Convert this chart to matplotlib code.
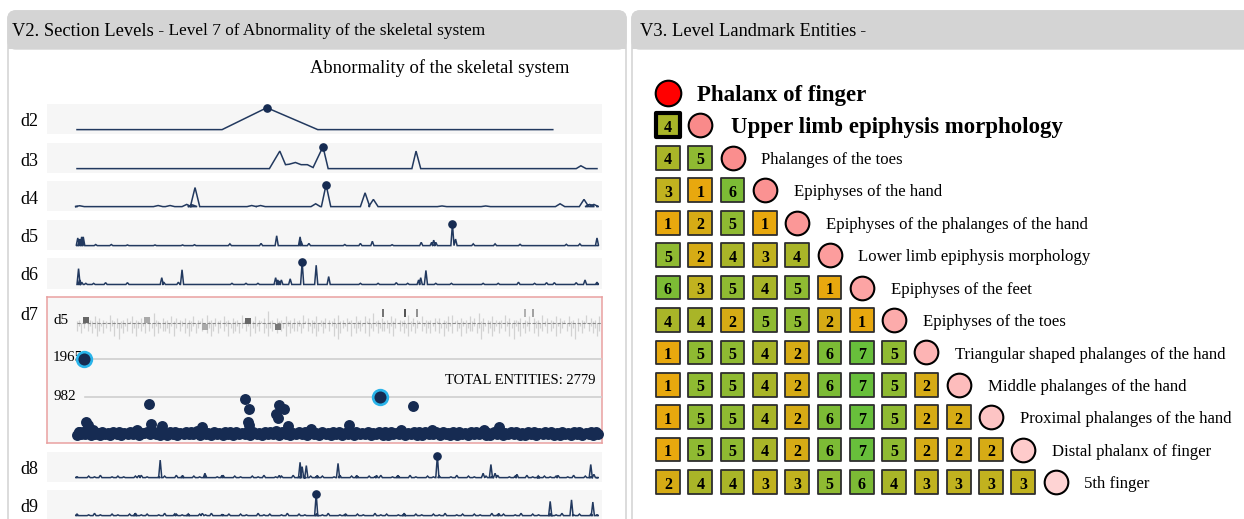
import matplotlib
matplotlib.use('Agg')
import matplotlib.pyplot as plt
from matplotlib.patches import FancyBboxPatch, Rectangle
import matplotlib.transforms as mtransforms
import numpy as np

W, H = 1244, 519
plt.rcParams['font.family'] = ['Liberation Serif', 'DejaVu Serif']

NAVY = '#22395f'
DOT = '#162b52'

# ---------------- data: V2 section levels ----------------
level_names = ['d2', 'd3', 'd4', 'd5', 'd6', 'd7', 'd8', 'd9']

d2_x = [0, 27.9, 36.5, 46.3, 91.5]
d2_y = [0, 0, 1.0, 0, 0]

d3_x = [0, 37.0, 39.0, 40.1, 40.8, 42.0, 43.1, 44.3, 45.4, 47.3, 48.3,
        64.4, 65.2, 66.1, 96.0, 96.9, 97.9, 100]
d3_y = [0, 0, 0.8, 0.18, 0.2, 0.28, 0.18, 0.18, 0.05, 1.0, 0,
        0, 0.8, 0, 0, 0.13, 0, 0]

d4_pos = [0.5, 15.6, 17.9, 21.1, 22.2, 22.7, 33.6, 35.3, 45.9, 47.9,
          55.4, 57.0, 70.2, 78.6, 92.9, 97.5, 98.6, 99.4]
d4_ht = [0.04, 0.05, 0.05, 0.1, 0.08, 0.87, 0.05, 0.05, 0.13, 1.0,
         0.63, 0.33, 0.03, 0.03, 0.13, 0.33, 0.1, 0.1]

d5_pos = [0.15, 0.5, 0.9, 1.2, 3.6, 6.6, 9.7, 15.0, 20.3, 22.6, 29.4, 35.4,
          38.4, 42.9, 43.1, 44.6, 51.5, 54.5, 56.8, 60.6, 66.2, 68.2, 68.6,
          69.0, 72.2, 72.8, 76.2, 80.4, 85.2, 94.1, 96.7, 100]
d5_ht = [0.35, 0.3, 0.4, 0.4, 0.05, 0.05, 0.03, 0.03, 0.03, 0.04, 0.08, 0.1,
         0.45, 0.4, 0.2, 0.1, 0.05, 0.1, 0.2, 0.04, 0.15, 0.15, 0.25,
         0.15, 1.0, 0.3, 0.08, 0.08, 0.06, 0.06, 0.08, 0.35]

d6_pos = [0.3, 0.5, 0.9, 1.7, 3.2, 5.5, 9.7, 16.3, 16.7, 19.5, 20.2, 29.8,
          32.5, 34.8, 38.2, 38.6, 38.9, 39.3, 41.0, 43.3, 46.0, 48.4, 54.5,
          57.9, 61.4, 63.6, 65.7, 66.1, 67.1, 69.0, 72.0, 78.1, 81.0, 84.9,
          88.0, 90.3, 91.8, 96.0, 97.7, 100]
d6_ht = [0.7, 0.2, 0.1, 0.05, 0.05, 0.08, 0.08, 0.3, 0.1, 0.1, 0.65, 0.05,
         0.05, 0.05, 0.3, 0.2, 0.15, 0.2, 0.25, 1.0, 0.85, 0.35, 0.05,
         0.05, 0.08, 0.05, 0.2, 0.3, 0.62, 0.05, 0.05, 0.05, 0.05, 0.1,
         0.05, 0.08, 0.08, 0.08, 0.2, 0.1]

d8_pos = [11.9, 16.0, 20.3, 24.6, 27.9, 38.9, 42.9, 43.3, 44.1, 46.2, 50.2,
          53.8, 57.6, 61.7, 69.3, 78.1, 79.6, 80.4, 84.6, 88.7, 92.5, 98.8, 99.4]
d8_ht = [0.1, 0.8, 0.1, 0.2, 0.1, 0.1, 0.7, 0.5, 0.55, 0.1, 0.65,
         0.1, 0.1, 0.1, 1.0, 0.2, 0.6, 0.2, 0.15, 0.08, 0.1, 0.6, 0.15]
d8_fuzz = "102130121023101203102120130210213012031021201302102130120310212013021021301203102120130210"

d9_pos = [11.2, 18.8, 21.4, 24.1, 27.9, 46.0, 51.5, 62.9, 81.1, 91.0, 95.1, 99.2]
d9_ht = [0.08, 0.08, 0.08, 0.1, 0.05, 1.0, 0.05, 0.05, 0.1, 0.65, 0.72, 0.62]
d9_fuzz = "201310210231201302110213012021031201302102130120210312013021021301202103120130210213012021"

# d7 detail: barcode strip of the d5 sub-level
strip_up = ("12031021413021052130" "12031402130213062103" "12041302130214021305"
            "12031204120312051302" "14021307120312041203" "12051302140213021305"
            "12031204120413061203" "12041302120513021402" "12031302140512031204"
            "13061302140212051302" "21302140312051302140" "31204120302150312041")
strip_down = ("31420314253142031526" "24130425231403251423" "32415203142531420314"
              "25314203152431420315" "24130425231403251423" "31420314253142031526"
              "42130524231405231423" "32415203142531420314" "24130425231403251423"
              "31426314253142031526" "13524130425231403251" "42031526314203142531")
strip_box_pos = [1.7, 13.5, 24.6, 32.9, 38.7]
strip_box_off = [3, 3, -4, 2, -4]
strip_box_shade = ['#666666', '#aaaaaa', '#aaaaaa', '#666666', '#777777']
strip_dark_pos = [58.8, 63.1, 65.4, 86.2, 87.7]
strip_dark_shade = ['#666666', '#444444', '#888888', '#aaaaaa', '#999999']

# d7 scatter of entity counts
ref_values = [982, 1965]
hi_pos = [1.3, 58.2]
hi_val = [1965, 982]
mid_pos = [13.8, 32.3, 33.1, 38.8, 39.8, 64.6, 14.2, 16.3, 32.9, 33.1, 38.6,
           38.3, 40.5, 52.4, 1.7, 2.2, 81.1, 78.3, 24.1, 68.2, 62.3, 11.6,
           45.0, 0.3, 3.0]
mid_val = [821, 940, 694, 787, 694, 762, 305, 245, 356, 288, 457,
           567, 262, 288, 347, 288, 220, 144, 220, 160, 160, 144,
           178, 100, 140]
base_pos = [0.0, 0.8, 1.5, 2.6, 3.4, 4.5, 5.3, 6.4, 7.6, 8.5, 9.8, 10.7, 11.9,
            12.8, 14.0, 15.1, 16.0, 17.3, 18.4, 19.2, 20.5, 21.6, 22.4, 23.6,
            24.8, 25.7, 26.9, 28.0, 29.1, 30.0, 31.2, 32.4, 33.3, 34.6, 35.5,
            36.7, 37.6, 38.9, 40.1, 41.0, 42.2, 43.3, 44.3, 45.6, 46.5, 47.8,
            48.9, 49.8, 51.0, 52.1, 53.2, 54.4, 55.3, 56.6, 57.5, 58.8, 59.9,
            60.8, 62.0, 63.1, 64.2, 65.4, 66.3, 67.6, 68.5, 69.8, 70.9, 71.8,
            73.0, 74.1, 75.2, 76.4, 77.3, 78.6, 79.5, 80.8, 81.9, 82.8, 84.0,
            85.1, 86.2, 87.4, 88.3, 89.6, 90.5, 91.8, 92.9, 93.8, 95.0, 96.1,
            97.2, 98.4, 99.3, 100.2]
base_val = [20, 45, 60, 30, 55, 25, 40, 35, 50, 20, 60, 45, 30, 70, 40, 55,
            35, 25, 50, 30, 45, 60, 40, 20, 55, 35, 45, 30, 50, 25, 40, 60,
            35, 45, 30, 55, 40, 20, 50, 35, 45, 60, 30, 40, 25, 50, 35, 45,
            30, 55, 20, 40, 45, 30, 50, 35, 25, 45, 40, 30, 55, 35, 20, 45,
            50, 30, 40, 35, 25, 45, 30, 50, 40, 35, 20, 45, 30, 55, 40, 35,
            25, 45, 30, 50, 40, 20, 35, 45, 30, 40, 25, 50, 35, 45]
base2_pos = [0.4, 1.2, 2.0, 3.0, 4.0, 4.9, 5.9, 7.0, 8.0, 9.1, 10.2, 11.3,
             12.3, 13.4, 14.5, 15.6, 16.6, 17.8, 18.8, 19.9, 21.0, 22.0, 23.0,
             24.2, 25.2, 26.3, 27.4, 28.5, 29.5, 30.6, 31.8, 32.8, 33.9, 35.0,
             36.1, 37.1, 38.2, 39.5, 40.5, 41.6, 42.7, 43.8, 44.9, 46.0, 47.1,
             48.3, 49.3, 50.4, 51.5, 52.6, 53.7, 54.9, 55.9, 57.0, 58.1, 59.3,
             60.3, 61.4, 62.5, 63.6, 64.8, 65.8, 66.9, 68.0, 69.1, 70.3, 71.3,
             72.4, 73.5, 74.6, 75.8, 76.8, 77.9, 79.0, 80.1, 81.3, 82.3, 83.4,
             84.5, 85.6, 86.8, 87.8, 88.9, 90.0, 91.1, 92.3, 93.3, 94.4, 95.5,
             96.6, 97.8, 98.8, 99.8]
base2_val = [110, 90, 140, 95, 80, 100, 85, 110, 90, 75, 95, 120, 85, 100,
             130, 90, 80, 105, 95, 85, 110, 90, 120, 100, 85, 95, 80, 110, 90,
             100, 85, 120, 95, 80, 105, 90, 125, 110, 95, 85, 100, 90, 115, 85,
             95, 80, 100, 90, 85, 110, 95, 80, 100, 85, 95, 90, 110, 85, 100,
             80, 95, 105, 90, 85, 100, 95, 80, 90, 105, 85, 95, 100, 90, 80,
             110, 95, 85, 100, 90, 80, 95, 105, 85, 90, 100, 85, 95, 80, 90,
             100, 85, 95, 90]
total_entities = 2779

# ---------------- data: V3 landmark entities ----------------
entity_names = ['Phalanx of finger', 'Upper limb epiphysis morphology',
                'Phalanges of the toes', 'Epiphyses of the hand',
                'Epiphyses of the phalanges of the hand',
                'Lower limb epiphysis morphology', 'Epiphyses of the feet',
                'Epiphyses of the toes', 'Triangular shaped phalanges of the hand',
                'Middle phalanges of the hand', 'Proximal phalanges of the hand',
                'Distal phalanx of finger', '5th finger']
entity_paths = [[], [4], [4, 5], [3, 1, 6], [1, 2, 5, 1], [5, 2, 4, 3, 4],
                [6, 3, 5, 4, 5, 1], [4, 4, 2, 5, 5, 2, 1],
                [1, 5, 5, 4, 2, 6, 7, 5], [1, 5, 5, 4, 2, 6, 7, 5, 2],
                [1, 5, 5, 4, 2, 6, 7, 5, 2, 2], [1, 5, 5, 4, 2, 6, 7, 5, 2, 2, 2],
                [2, 4, 4, 3, 3, 5, 6, 4, 3, 3, 3, 3]]
circle_colors = ['#ff0000', '#f98a8a', '#fa8e8e', '#fb9292', '#fb9797',
                 '#fc9d9d', '#fca4a4', '#fcabab', '#fdb4b4', '#fdbcbc',
                 '#fdc4c4', '#fecbcb', '#fed3d3']
level_colors = {1: '#e8a80e', 2: '#d6ab15', 3: '#c1b21f', 4: '#a9b528',
                5: '#8fba32', 6: '#7cbb35', 7: '#68bf3b'}


def px_axes(x0, y0, x1, y1, **kw):
    return fig.add_axes([x0 / W, 1 - y1 / H, (x1 - x0) / W, (y1 - y0) / H], **kw)


def spike_line(pos, hts, width, end=100.0):
    xs, ys = [0.0], [0.0]
    for p, h in sorted(zip(pos, hts)):
        xs += [p - width, p, p + width]
        ys += [0.0, h, 0.0]
    xs.append(end)
    ys.append(0.0)
    return xs, ys


def fuzz_spikes(fuzz, scale=0.035):
    n = len(fuzz)
    return list(np.linspace(0, 100, n)), [int(c) * scale for c in fuzz]


fig = plt.figure(figsize=(W / 100, H / 100), dpi=100)

# background / panels
bg = fig.add_axes([0, 0, 1, 1], zorder=-5)
bg.set_xlim(0, W)
bg.set_ylim(H, 0)
bg.axis('off')
for x0, w in [(8, 618), (632, 630)]:
    bg.add_patch(FancyBboxPatch((x0, 11), w, 560, boxstyle='round,pad=0,rounding_size=8',
                                fc='white', ec='#d6d6d6', lw=1.2))
    bg.add_patch(FancyBboxPatch((x0, 11), w, 38, boxstyle='round,pad=0,rounding_size=8',
                                fc='#d4d4d4', ec='#d4d4d4', lw=1))
    bg.add_patch(Rectangle((x0, 30), w, 19, fc='#d4d4d4', ec='none'))

t1 = bg.text(12, 31, 'V2. Section Levels', fontsize=13.3, va='center')
t3 = bg.text(640, 31, 'V3. Level Landmark Entities', fontsize=13.3, va='center')
fig.canvas.draw()
r = fig.canvas.get_renderer()
bg.text(t1.get_window_extent(r).x1, 31, ' - Level 7 of Abnormality of the skeletal system',
        fontsize=12.4, va='center')
bg.text(t3.get_window_extent(r).x1, 31, ' -', fontsize=12.4, va='center')

bg.text(440, 68, 'Abnormality of the skeletal system', fontsize=13.3, ha='center', va='center')

# ---------------- V2 sparklines ----------------
rows_px = {'d2': (104, 134), 'd3': (143, 173), 'd4': (181, 211), 'd5': (220, 250),
           'd6': (258, 289), 'd7': (297, 443), 'd8': (452, 482), 'd9': (490, 520)}
XL = (-30 / 5.2, 525 / 5.2)

series = {
    'd2': (d2_x, d2_y),
    'd3': (d3_x, d3_y),
    'd4': spike_line(d4_pos, d4_ht, 0.9),
    'd5': spike_line(d5_pos, d5_ht, 0.3),
    'd6': spike_line(d6_pos, d6_ht, 0.3),
}
fx, fh = fuzz_spikes(d8_fuzz)
series['d8'] = spike_line(d8_pos + fx, d8_ht + fh, 0.3)
fx, fh = fuzz_spikes(d9_fuzz)
series['d9'] = spike_line(d9_pos + fx, d9_ht + fh, 0.3)

for name in level_names:
    y0, y1 = rows_px[name]
    bg.text(20, y0 + 18, name, fontsize=13, va='center')
    if name == 'd7':
        continue
    ax = px_axes(47, y0, 602, y1)
    ax.set_facecolor('#f6f6f6')
    for s in ax.spines.values():
        s.set_visible(False)
    ax.set_xticks([])
    ax.set_yticks([])
    xs, ys = series[name]
    ax.plot(xs, ys, color=NAVY, lw=1.1, solid_joinstyle='miter')
    k = int(np.argmax(ys))
    ax.plot([xs[k]], [ys[k]], 'o', color=DOT, ms=5.2, clip_on=False)
    ax.set_xlim(*XL)
    ax.set_ylim(-0.2, 1.17)

# ---------------- d7 detail ----------------
y0, y1 = rows_px['d7']
box = px_axes(47, y0, 602, y1)
box.set_facecolor('#f7f7f7')
for s in box.spines.values():
    s.set_color('#e9a0a0')
    s.set_linewidth(1.1)
box.set_xticks([])
box.set_yticks([])

strip = px_axes(47, 303, 602, 343)
strip.patch.set_alpha(0)
strip.axis('off')
strip.set_xlim(*XL)
strip.set_ylim(-20, 20)
n = min(len(strip_up), len(strip_down))
spos = np.linspace(0, 100.9, n)
ups = np.array([int(c) for c in strip_up[:n]]) * 1.7
downs = np.array([int(c) for c in strip_down[:n]]) * 2.6
strip.vlines(spos, -downs, ups, color='#d2d2d2', lw=0.9)
strip.axhline(0, xmin=(77 - 47) / 555, color='#8a8a8a', lw=0.8, ls=(0, (3, 1.5)))
strip.scatter(strip_box_pos, strip_box_off, marker='s', s=22, c=strip_box_shade,
              linewidths=0, zorder=3)
strip.vlines(strip_dark_pos, 6, 14, colors=strip_dark_shade, lw=1.3, zorder=3)
strip.text(53 / 5.2 - 77 / 5.2, 2, 'd5', fontsize=11, va='center')

sc = px_axes(47, 345, 602, 443)
sc.patch.set_alpha(0)
sc.axis('off')
sc.set_xlim(*XL)
sc.set_ylim(-178, 2310)
blend = mtransforms.blended_transform_factory(sc.transAxes, sc.transData)
for v, lab in zip(ref_values, ['982', '1965']):
    sc.axhline(v, xmin=(85 - 47) / 555, color='#cfcfcf', lw=1.2, zorder=1)
    sc.text(0.011, v + 20, lab, transform=blend, fontsize=10.8, va='center', zorder=1)
sc.scatter(base2_pos, base2_val, s=62, color=DOT, zorder=3, linewidths=0)
sc.scatter(base_pos, base_val, s=62, color=DOT, zorder=3, clip_on=False, linewidths=0)
sc.scatter(mid_pos, mid_val, s=62, color=DOT, zorder=3, linewidths=0)
sc.scatter(hi_pos, hi_val, s=112, color=DOT, edgecolors='#2ab4ea', linewidths=1.9, zorder=4)
sc.text(0.989, 0.64, 'TOTAL ENTITIES: %d' % total_entities, transform=sc.transAxes,
        ha='right', va='center', fontsize=10.5)

# ---------------- V3 landmark entities ----------------
STEP = 32.3
rax = px_axes(636, 70, 1244, 512)
rax.axis('off')
rax.set_xlim((636 - 668) / STEP, (1244 - 668) / STEP)
rax.set_ylim((512 - 93) / 32.42, (70 - 93) / 32.42)

for row, (name, path) in enumerate(zip(entity_names, entity_paths)):
    if path:
        cols = list(range(len(path)))
        lw = 3.0 if row == 1 else 1.3
        ec = '#000000' if row == 1 else '#2e2e2e'
        rax.scatter(cols, [row] * len(path), marker='s', s=290,
                    c=[level_colors[v] for v in path], edgecolors=ec, linewidths=lw, zorder=2)
        for c, v in zip(cols, path):
            rax.text(c, row + 0.08, str(v), ha='center', va='center',
                     fontsize=11.5, fontweight='bold', zorder=3)
    ncol = len(path)
    size = 340 if row == 0 else 290
    rax.scatter([ncol], [row], s=size, color=circle_colors[row], edgecolors='black',
                linewidths=1.5, zorder=2)
    bold = row < 2
    rax.annotate(name, (ncol, row), xytext=(21 if row == 0 else (22 if row == 1 else 20.8), -1.6),
                 textcoords='offset points', va='center',
                 fontsize=16.5 if bold else 12.1, fontweight='bold' if bold else 'normal')

fig.savefig('out.png', dpi=100)
